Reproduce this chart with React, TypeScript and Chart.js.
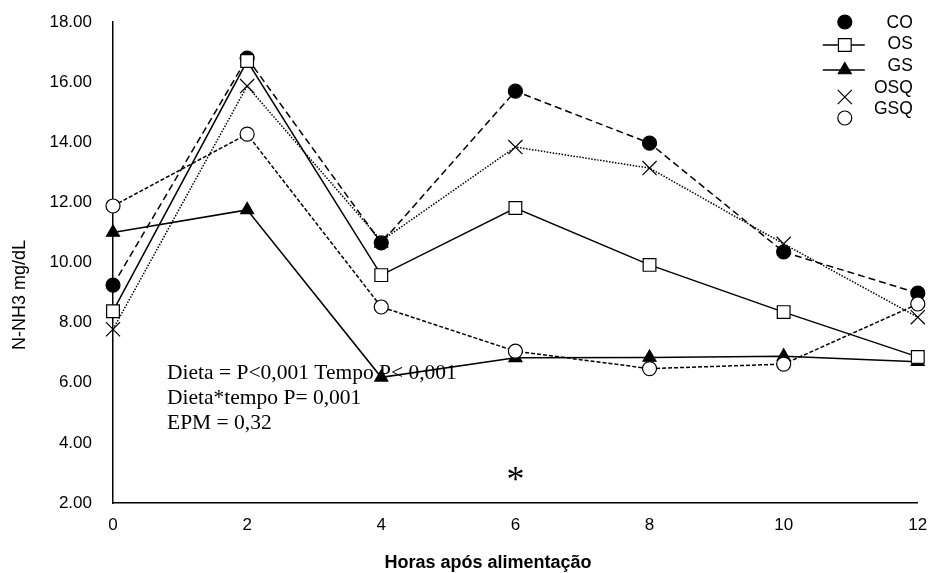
import React, { useEffect, useRef } from 'react';
import { Chart, registerables } from 'chart.js';

Chart.register(...registerables);

// ---- data ----
const HOURS = [0, 2, 4, 6, 8, 10, 12];
const CO = [9.25, 16.8, 10.65, 15.7, 13.97, 10.35, 8.98];
const OS = [8.38, 16.7, 9.58, 11.81, 9.92, 8.35, 6.86];
const GS = [11.0, 11.75, 6.18, 6.83, 6.84, 6.88, 6.7];
const OSQ = [7.78, 15.87, 10.72, 13.84, 13.14, 10.62, 8.18];
const GSQ = [11.88, 14.27, 8.52, 7.05, 6.47, 6.62, 8.62];
const SERIES_NAMES = ['CO', 'OS', 'GS', 'OSQ', 'GSQ'];
const Y_MIN = 2;
const Y_MAX = 18;
const Y_STEP = 2;
const X_MIN = 0;
const X_MAX = 12;
const X_STEP = 2;
const Y_TITLE = 'N-NH3 mg/dL';
const X_TITLE = 'Horas após alimentação';
const STATS_LINES = ['Dieta = P<0,001 Tempo P< 0,001', 'Dieta*tempo P= 0,001', 'EPM = 0,32'];
const SIG_MARK = '*';
const SIG_MARK_HOUR = 6;
const SIG_MARK_VALUE = 3.0;

const SANS = '"Liberation Sans", Arial, sans-serif';
const SERIF = '"Liberation Serif", "Times New Roman", serif';

type Marker = 'circle' | 'rect' | 'triangle' | 'crossRot';

function drawMarker(ctx: CanvasRenderingContext2D, style: Marker, x: number, y: number, r: number, fill: string) {
  ctx.save();
  ctx.strokeStyle = '#000';
  ctx.fillStyle = fill;
  ctx.lineWidth = 1.2;
  ctx.setLineDash([]);
  ctx.beginPath();
  if (style === 'circle') {
    ctx.arc(x, y, r, 0, Math.PI * 2);
    ctx.fill();
    ctx.stroke();
  } else if (style === 'rect') {
    const s = r * Math.SQRT1_2;
    ctx.rect(x - s, y - s, 2 * s, 2 * s);
    ctx.fill();
    ctx.stroke();
  } else if (style === 'triangle') {
    let rad = 0;
    const t = (2 * Math.PI) / 3;
    ctx.moveTo(x + Math.sin(rad) * r, y - Math.cos(rad) * r);
    rad += t;
    ctx.lineTo(x + Math.sin(rad) * r, y - Math.cos(rad) * r);
    rad += t;
    ctx.lineTo(x + Math.sin(rad) * r, y - Math.cos(rad) * r);
    ctx.closePath();
    ctx.fill();
    ctx.stroke();
  } else {
    const o = r * Math.SQRT1_2;
    ctx.moveTo(x - o, y - o);
    ctx.lineTo(x + o, y + o);
    ctx.moveTo(x - o, y + o);
    ctx.lineTo(x + o, y - o);
    ctx.stroke();
  }
  ctx.restore();
}

const SERIES = [
  { name: SERIES_NAMES[0], values: CO, marker: 'circle' as Marker, radius: 7, fill: '#000', dash: [7, 4], order: 5 },
  { name: SERIES_NAMES[1], values: OS, marker: 'rect' as Marker, radius: 9, fill: '#fff', dash: [] as number[], order: 2 },
  { name: SERIES_NAMES[2], values: GS, marker: 'triangle' as Marker, radius: 7.5, fill: '#000', dash: [] as number[], order: 3 },
  { name: SERIES_NAMES[3], values: OSQ, marker: 'crossRot' as Marker, radius: 10, fill: '#000', dash: [1.5, 1.5], order: 4 },
  { name: SERIES_NAMES[4], values: GSQ, marker: 'circle' as Marker, radius: 7, fill: '#fff', dash: [4, 2], order: 1 },
];

const overlayPlugin = {
  id: 'overlay',
  beforeDatasetsDraw(chart: any) {
    const ctx: CanvasRenderingContext2D = chart.ctx;
    const ca = chart.chartArea;
    ctx.save();
    ctx.fillStyle = '#000';
    ctx.font = `21.5px ${SERIF}`;
    ctx.textAlign = 'left';
    ctx.textBaseline = 'middle';
    STATS_LINES.forEach((line, i) => {
      ctx.fillText(line, ca.left + 54, ca.top + 351 + i * 25);
    });
    ctx.restore();
  },
  afterDatasetsDraw(chart: any) {
    const ctx: CanvasRenderingContext2D = chart.ctx;
    const xs = chart.scales.x;
    const ys = chart.scales.y;
    ctx.save();
    ctx.fillStyle = '#000';
    const fs = 36;
    ctx.font = `${fs}px ${SERIF}`;
    ctx.textAlign = 'center';
    ctx.textBaseline = 'alphabetic';
    ctx.fillText(SIG_MARK, xs.getPixelForValue(SIG_MARK_HOUR), ys.getPixelForValue(SIG_MARK_VALUE) + fs * 0.5);
    ctx.restore();
  },
  afterDraw(chart: any) {
    const ctx: CanvasRenderingContext2D = chart.ctx;
    const ca = chart.chartArea;
    ctx.save();
    ctx.fillStyle = '#000';
    // axis titles
    ctx.font = `18px ${SANS}`;
    ctx.textAlign = 'center';
    ctx.textBaseline = 'middle';
    ctx.translate(20, ca.top + 273);
    ctx.rotate(-Math.PI / 2);
    ctx.fillText(Y_TITLE, 0, 0);
    ctx.setTransform(1, 0, 0, 1, 0, 0);
    ctx.font = `bold 18px ${SANS}`;
    ctx.fillText(X_TITLE, ca.left + 375, ca.bottom + 60);

    // legend
    const markerX = ca.right - 73;
    const textRight = ca.right - 5;
    const rows = [
      { marker: 22, text: 23, line: false },
      { marker: 45, text: 44, line: true },
      { marker: 70, text: 66, line: true },
      { marker: 97, text: 88, line: false },
      { marker: 118, text: 109, line: false },
    ];
    ctx.font = `17.5px ${SANS}`;
    ctx.textAlign = 'right';
    ctx.textBaseline = 'middle';
    SERIES.forEach((s, i) => {
      const r = rows[i];
      if (r.line) {
        ctx.save();
        ctx.strokeStyle = '#000';
        ctx.lineWidth = 1.5;
        ctx.beginPath();
        ctx.moveTo(markerX - 22, r.marker);
        ctx.lineTo(markerX + 20, r.marker);
        ctx.stroke();
        ctx.restore();
      }
      drawMarker(ctx, s.marker, markerX, r.marker, s.radius, s.fill);
      ctx.fillStyle = '#000';
      ctx.fillText(s.name, textRight, r.text);
    });
    ctx.restore();
  },
};

function zeroPadding(scale: any) {
  scale.paddingTop = 0;
  scale.paddingBottom = 0;
  scale.paddingLeft = 0;
  scale.paddingRight = 0;
}

export default function App() {
  const ref = useRef<HTMLCanvasElement | null>(null);
  useEffect(() => {
    if (!ref.current) return;
    const datasets = SERIES.map((s) => ({
      label: s.name,
      data: HOURS.map((h, i) => ({ x: h, y: s.values[i] })),
      borderColor: '#000',
      borderWidth: 1.5,
      borderDash: s.dash,
      backgroundColor: s.fill,
      pointStyle: s.marker,
      pointRadius: s.radius,
      pointBorderWidth: 1.2,
      pointBorderColor: '#000',
      pointBackgroundColor: s.fill,
      fill: false,
      tension: 0,
      clip: false as any,
      order: s.order,
    }));
    const chart = new Chart(ref.current, {
      type: 'line',
      data: { datasets },
      plugins: [overlayPlugin],
      options: {
        responsive: false,
        animation: false,
        layout: { padding: { top: 22, right: 11, left: 0, bottom: 0 } },
        plugins: { legend: { display: false }, tooltip: { enabled: false } },
        scales: {
          x: {
            type: 'linear',
            min: X_MIN,
            max: X_MAX,
            grid: { display: false, drawTicks: false },
            border: { display: true, color: '#000', width: 1.5 },
            ticks: {
              stepSize: X_STEP,
              color: '#000',
              font: { family: SANS, size: 17 },
              padding: 12,
              maxRotation: 0,
            },
            afterFit(scale: any) {
              scale.height = 70;
              zeroPadding(scale);
            },
          },
          y: {
            type: 'linear',
            min: Y_MIN,
            max: Y_MAX,
            grid: { display: false, drawTicks: false },
            border: { display: true, color: '#000', width: 1.5 },
            ticks: {
              stepSize: Y_STEP,
              color: '#000',
              font: { family: SANS, size: 17 },
              padding: 21,
              callback: (v: any) => Number(v).toFixed(2),
            },
            afterFit(scale: any) {
              scale.width = 113;
              zeroPadding(scale);
            },
          },
        },
      },
    });
    return () => chart.destroy();
  }, []);
  return (
    <div style={{ position: 'fixed', left: 0, top: 0, width: 929, height: 573, background: '#fff' }}>
      <canvas ref={ref} width={929} height={573} style={{ width: 929, height: 573 }} />
    </div>
  );
}
